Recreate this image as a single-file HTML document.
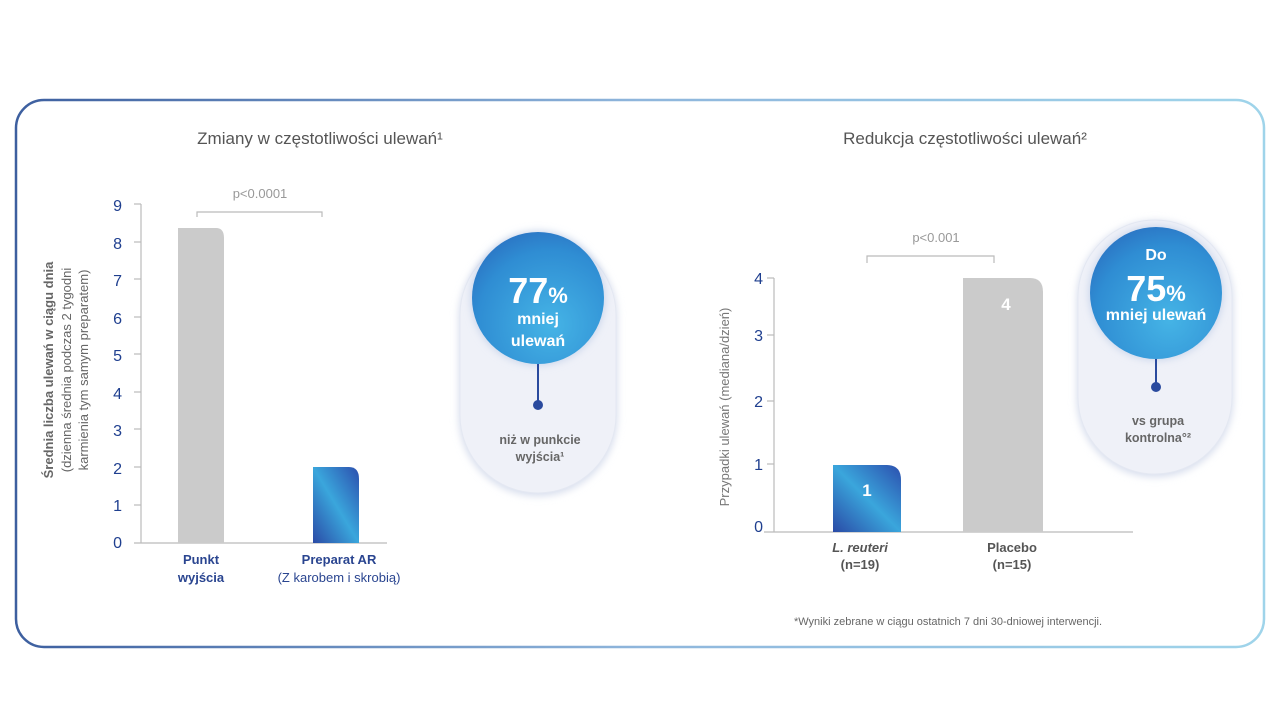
<!DOCTYPE html>
<html><head><meta charset="utf-8"><style>
body{margin:0;width:1280px;height:720px;background:#fff;overflow:hidden}
svg{display:block;font-family:"Liberation Sans","DejaVu Sans",sans-serif}
</style></head><body>
<svg width="1280" height="720" viewBox="0 0 1280 720">
<defs>
<linearGradient id="bord" x1="0" x2="1" y1="0" y2="0"><stop offset="0" stop-color="#3d5f9f"/><stop offset="0.5" stop-color="#8fb6dc"/><stop offset="1" stop-color="#9fd4ea"/></linearGradient>
<linearGradient id="blue" x1="0" y1="1" x2="1" y2="0"><stop offset="0" stop-color="#2a4aa6"/><stop offset="0.5" stop-color="#3aa6dc"/><stop offset="1" stop-color="#2c4fae"/></linearGradient>
<radialGradient id="circ" cx="0.6" cy="0.7" r="0.8"><stop offset="0" stop-color="#45b4e6"/><stop offset="0.7" stop-color="#2f8dd3"/><stop offset="1" stop-color="#2a6ec0"/></radialGradient>
<filter id="sh" x="-30%" y="-30%" width="160%" height="160%"><feGaussianBlur stdDeviation="4"/></filter>
</defs>
<rect x="16" y="100" width="1248" height="547" rx="28" fill="none" stroke="url(#bord)" stroke-width="2.5"/>

<text x="320" y="144" text-anchor="middle" font-size="17" fill="#555">Zmiany w częstotliwości ulewań¹</text>
<text x="965" y="144" text-anchor="middle" font-size="17" fill="#555">Redukcja częstotliwości ulewań²</text>

<!-- left chart -->
<g font-size="16" fill="#1f3f8f" text-anchor="end">
<text x="122" y="211">9</text><text x="122" y="249">8</text><text x="122" y="286">7</text><text x="122" y="324">6</text><text x="122" y="361">5</text><text x="122" y="399">4</text><text x="122" y="436">3</text><text x="122" y="474">2</text><text x="122" y="511">1</text><text x="122" y="548">0</text>
</g>
<g stroke="#bbb" stroke-width="1.2">
<line x1="141" y1="204" x2="141" y2="543"/><line x1="134" y1="543" x2="387" y2="543"/>
<line x1="134" y1="204" x2="141" y2="204"/><line x1="134" y1="242" x2="141" y2="242"/><line x1="134" y1="279" x2="141" y2="279"/><line x1="134" y1="317" x2="141" y2="317"/><line x1="134" y1="354" x2="141" y2="354"/><line x1="134" y1="392" x2="141" y2="392"/><line x1="134" y1="429" x2="141" y2="429"/><line x1="134" y1="467" x2="141" y2="467"/><line x1="134" y1="505" x2="141" y2="505"/>
<polyline points="197,217 197,212 322,212 322,217" fill="none"/>
</g>
<text x="260" y="198" text-anchor="middle" font-size="13" fill="#999">p&lt;0.0001</text>
<path d="M178,543 V228 H216 Q224,228 224,238 V543 Z" fill="#cbcbcb"/>
<path d="M313,543 V467 H349 Q359,467 359,479 V543 Z" fill="url(#blue)"/>
<g transform="translate(53,370) rotate(-90)" text-anchor="middle" font-size="13" fill="#666">
<text y="0" font-weight="bold">Średnia liczba ulewań w ciągu dnia</text>
<text y="18">(dzienna średnia podczas 2 tygodni</text>
<text y="35">karmienia tym samym preparatem)</text>
</g>
<g font-size="13" text-anchor="middle" fill="#2a4590" font-weight="bold">
<text x="201" y="564">Punkt</text><text x="201" y="582">wyjścia</text>
<text x="339" y="564">Preparat AR</text>
</g>
<text x="339" y="582" text-anchor="middle" font-size="13" fill="#2a4590">(Z karobem i skrobią)</text>

<!-- pill 1 -->
<rect x="459" y="238" width="158" height="258" rx="79" fill="#d5dcec" filter="url(#sh)"/>
<rect x="460" y="237" width="156" height="256" rx="78" fill="#eff1f8" stroke="#e4e8f2"/>
<circle cx="538" cy="298" r="67" fill="#c8d4ea" filter="url(#sh)"/>
<circle cx="538" cy="298" r="66" fill="url(#circ)"/>
<line x1="538" y1="364" x2="538" y2="404" stroke="#2a4a9e" stroke-width="2"/>
<circle cx="538" cy="405" r="5" fill="#2a4a9e"/>
<text x="538" y="303" text-anchor="middle" fill="#fff" font-weight="bold"><tspan font-size="36">77</tspan><tspan font-size="22">%</tspan></text>
<text x="538" y="324" text-anchor="middle" fill="#fff" font-weight="bold" font-size="16">mniej</text>
<text x="538" y="346" text-anchor="middle" fill="#fff" font-weight="bold" font-size="16">ulewań</text>
<text x="540" y="444" text-anchor="middle" fill="#666" font-weight="bold" font-size="12.5">niż w punkcie</text>
<text x="540" y="461" text-anchor="middle" fill="#666" font-weight="bold" font-size="12.5">wyjścia¹</text>

<!-- right chart -->
<g font-size="16" fill="#1f3f8f" text-anchor="end">
<text x="763" y="284">4</text><text x="763" y="341">3</text><text x="763" y="407">2</text><text x="763" y="470">1</text><text x="763" y="532">0</text>
</g>
<g stroke="#bbb" stroke-width="1.2">
<line x1="774" y1="278" x2="774" y2="532"/><line x1="764" y1="532" x2="1133" y2="532"/>
<line x1="767" y1="278" x2="774" y2="278"/><line x1="767" y1="335" x2="774" y2="335"/><line x1="767" y1="401" x2="774" y2="401"/><line x1="767" y1="464" x2="774" y2="464"/>
<polyline points="867,263 867,256 994,256 994,263" fill="none"/>
</g>
<text x="936" y="242" text-anchor="middle" font-size="13" fill="#999">p&lt;0.001</text>
<path d="M833,532 V465 H887 Q901,465 901,480 V532 Z" fill="url(#blue)"/>
<path d="M963,532 V278 H1030 Q1043,278 1043,292 V532 Z" fill="#cbcbcb"/>
<text x="867" y="496" text-anchor="middle" fill="#fff" font-weight="bold" font-size="17">1</text>
<text x="1006" y="310" text-anchor="middle" fill="#fff" font-weight="bold" font-size="17">4</text>
<text transform="translate(729,407) rotate(-90)" text-anchor="middle" font-size="13" fill="#777">Przypadki ulewań (mediana/dzień)</text>
<g font-size="13" text-anchor="middle" fill="#555" font-weight="bold">
<text x="860" y="552" font-style="italic">L. reuteri</text><text x="860" y="569">(n=19)</text>
<text x="1012" y="552">Placebo</text><text x="1012" y="569">(n=15)</text>
</g>
<text x="948" y="625" text-anchor="middle" font-size="11" fill="#666">*Wyniki zebrane w ciągu ostatnich 7 dni 30-dniowej interwencji.</text>

<!-- pill 2 -->
<rect x="1077" y="221" width="156" height="256" rx="78" fill="#d5dcec" filter="url(#sh)"/>
<rect x="1078" y="220" width="154" height="254" rx="77" fill="#eff1f8" stroke="#e4e8f2"/>
<circle cx="1156" cy="293" r="67" fill="#c8d4ea" filter="url(#sh)"/>
<circle cx="1156" cy="293" r="66" fill="url(#circ)"/>
<line x1="1156" y1="359" x2="1156" y2="386" stroke="#2a4a9e" stroke-width="2"/>
<circle cx="1156" cy="387" r="5" fill="#2a4a9e"/>
<text x="1156" y="260" text-anchor="middle" fill="#fff" font-weight="bold" font-size="16">Do</text>
<text x="1156" y="301" text-anchor="middle" fill="#fff" font-weight="bold"><tspan font-size="36">75</tspan><tspan font-size="22">%</tspan></text>
<text x="1156" y="320" text-anchor="middle" fill="#fff" font-weight="bold" font-size="16">mniej ulewań</text>
<text x="1158" y="425" text-anchor="middle" fill="#666" font-weight="bold" font-size="12.5">vs grupa</text>
<text x="1158" y="442" text-anchor="middle" fill="#666" font-weight="bold" font-size="12.5">kontrolna°²</text>
</svg>
</body></html>
